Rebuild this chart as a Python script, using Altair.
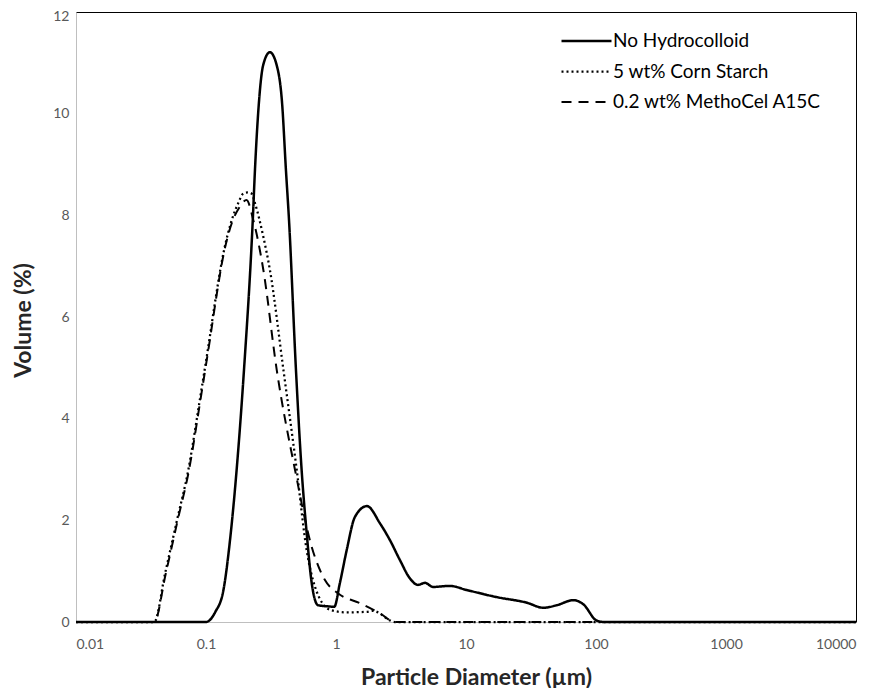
import altair as alt
import pandas as pd

series_names = ["No Hydrocolloid", "5 wt% Corn Starch", "0.2 wt% MethoCel A15C"]

none_x = [0.01, 0.1, 0.118, 0.136, 0.153, 0.172, 0.196, 0.229, 0.238, 0.255, 0.275, 0.31, 0.35,
          0.385, 0.412, 0.435, 0.492, 0.544, 0.595, 0.65, 0.727, 0.85, 0.97, 1.07, 1.21, 1.4,
          1.73, 2.18, 2.6, 3.1, 3.7, 4.27, 4.84, 5.57, 7.5, 10.1, 17.2, 29.3, 39.4, 50, 66.8,
          79.8, 101, 115, 10000]
none_y = [0, 0, 0.2, 0.62, 1.61, 2.99, 4.96, 7.91, 8.89, 10.2, 10.95, 11.21, 10.95,
          10.2, 8.89, 7.91, 4.96, 2.99, 1.75, 0.77, 0.33, 0.31, 0.30, 0.76, 1.42, 2.07,
          2.28, 1.94, 1.61, 1.22, 0.86, 0.73, 0.77, 0.69, 0.71, 0.63, 0.49, 0.38, 0.28, 0.33, 0.43,
          0.35, 0.03, 0, 0]

corn_x = [0.01, 0.04, 0.0484, 0.0598, 0.0731, 0.09, 0.107, 0.117, 0.136, 0.158, 0.177,
          0.194, 0.21, 0.224, 0.238, 0.276, 0.31, 0.394, 0.499, 0.594, 0.69, 0.9, 1.2, 1.72,
          1.93, 2.2, 2.45, 2.84, 10000]
corn_y = [0, 0, 0.95, 2.0, 2.99, 4.4, 5.61, 6.27, 7.25, 7.91, 8.24,
          8.43, 8.45, 8.43, 8.24, 7.58, 6.93, 4.96, 2.99, 1.42, 0.69, 0.24, 0.19, 0.2,
          0.22, 0.16, 0.07, 0, 0]

metho_x = [0.01, 0.04, 0.049, 0.0605, 0.074, 0.091, 0.108, 0.118, 0.137, 0.158, 0.18,
           0.205, 0.231, 0.276, 0.35, 0.484, 0.65, 0.82, 1.04, 1.53, 2.18, 2.84, 10000]
metho_y = [0, 0, 0.95, 2.0, 2.99, 4.4, 5.61, 6.27, 7.25, 7.85, 8.15,
           8.3, 7.91, 6.93, 4.96, 2.99, 1.48, 0.83, 0.56, 0.37, 0.17, 0, 0]

x_ticks = [0.01, 0.1, 1, 10, 100, 1000, 10000]
y_ticks = [0, 2, 4, 6, 8, 10, 12]

rows = []
for name, xs, ys in zip(series_names, [none_x, corn_x, metho_x], [none_y, corn_y, metho_y]):
    for xv, yv in zip(xs, ys):
        rows.append({"Diameter": xv, "Volume": yv, "Series": name})
df = pd.DataFrame(rows)

FONT = "Lato"

chart = alt.Chart(df).mark_line(interpolate="monotone", color="black", strokeCap="butt").encode(
    x=alt.X("Diameter:Q",
            scale=alt.Scale(type="log", domain=[0.01, 10000], nice=False),
            axis=alt.Axis(values=x_ticks, labelExpr="format(datum.value, '~g')",
                          title="Particle Diameter (µm)", grid=False, ticks=False, tickSize=0,
                          labelPadding=15, titleX=400, titleY=62, titleBaseline="alphabetic",
                          titleAlign="center")),
    y=alt.Y("Volume:Q",
            scale=alt.Scale(domain=[0, 12], nice=False),
            axis=alt.Axis(values=y_ticks, title="Volume (%)", grid=False, ticks=False, tickSize=0,
                          labelPadding=7,
                          labelOffset={"condition": {"test": "datum.value == 12", "value": 4},
                                       "value": 0},
                          titleX=-53, titleY=308, titleAngle=-90,
                          titleBaseline="middle", titleAlign="center")),
    strokeDash=alt.StrokeDash("Series:N",
                              scale=alt.Scale(domain=series_names,
                                              range=[[1, 0], [2, 3], [10, 7]]),
                              legend=alt.Legend(title=None, orient="none", legendX=484, legendY=19.5,
                                                symbolType="stroke", symbolSize=2500,
                                                symbolStrokeWidth=2, symbolStrokeColor="black",
                                                clipHeight=19, rowPadding=10.5, labelOffset=0,
                                                labelFontSize=19, labelFont=FONT, labelLimit=400,
                                                labelColor="#000000", padding=0)),
    strokeWidth=alt.StrokeWidth("Series:N",
                                scale=alt.Scale(domain=series_names, range=[2.5, 2, 2]),
                                legend=None),
).properties(
    width=780, height=610,
    autosize=alt.AutoSizeParams(type="none"),
    padding={"left": 68, "top": 4, "right": 9, "bottom": 66},
).configure_view(
    stroke="#000000", strokeWidth=1
).configure_axis(
    domainColor="#bfbfbf", domainWidth=1,
    labelFont=FONT, labelFontSize=14, labelColor="#595959",
    titleFont=FONT, titleFontSize=23, titleFontWeight="bold", titleColor="#262626",
)

chart.save("out.html", embed_options={"renderer": "svg", "actions": False})
